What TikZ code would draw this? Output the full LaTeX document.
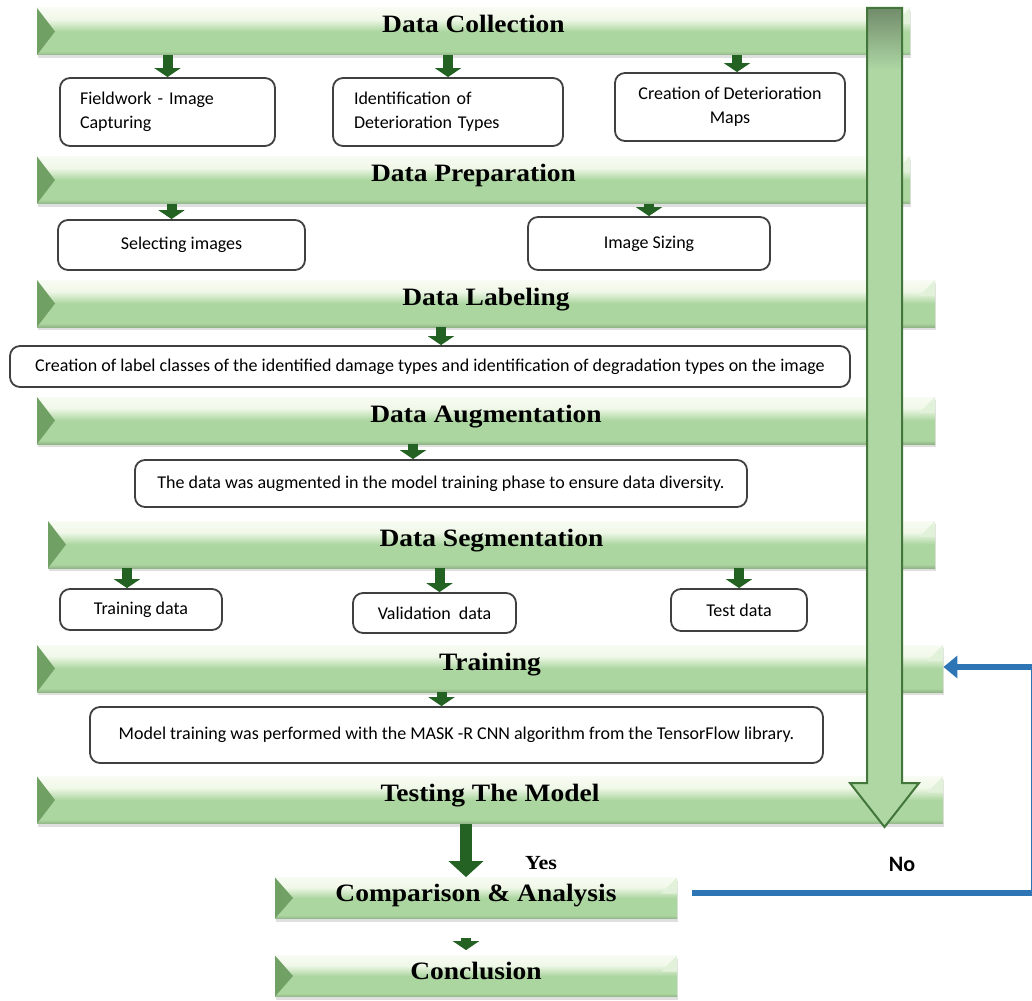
\documentclass[tikz,border=0pt]{standalone}
\usepackage{fontspec}
\setmainfont{Carlito}
\newfontfamily\bandfont[FakeStretch=1.1]{Liberation Serif}
\newfontfamily\boxfont{Carlito}
\usetikzlibrary{calc,positioning,arrows.meta,shadows}

\definecolor{bandgreen}{RGB}{172,214,160}
\definecolor{bandlight}{RGB}{240,248,232}
\definecolor{banddark}{RGB}{112,160,100}
\definecolor{flowgreen}{RGB}{36,98,36}
\definecolor{bigfill}{RGB}{174,215,164}
\definecolor{bigborder}{RGB}{66,118,58}
\definecolor{fbblue}{RGB}{46,117,182}

\pgfdeclareverticalshading{bandshade}{100bp}{color(0bp)=(bandgreen!85!black); color(25bp)=(bandgreen!85!black);
  color(29bp)=(bandgreen); color(50bp)=(bandgreen); color(63bp)=(bandlight); color(75bp)=(bandlight!50!white);
  color(100bp)=(bandlight!50!white)}
\pgfdeclareverticalshading{shaftshade}{100bp}{color(0bp)=(bigfill); color(25bp)=(bigfill);
  color(71bp)=(bigfill); color(75bp)=(bigfill!65!black); color(100bp)=(bigfill!65!black)}

\tikzset{
  band/.style={shade, shading=bandshade, inner sep=0pt,
    font=\bandfont\bfseries\fontsize{12.5}{14}\selectfont,
    text height=12.5pt, text depth=11pt,
    drop shadow={shadow xshift=0.6pt, shadow yshift=-1.6pt, opacity=0.25},
    path picture={
      \shade[left color=banddark, right color=bandgreen!90!black] (path picture bounding box.north west)
        -- ([xshift=9pt]path picture bounding box.west) -- (path picture bounding box.south west) -- cycle;
      \fill[bandlight!80!bandgreen] (path picture bounding box.north east)
        -- ([xshift=-8pt,yshift=-8pt]path picture bounding box.north east)
        -- ([yshift=-8pt]path picture bounding box.north east) -- cycle;
    }},
  smallband/.style={band, text height=12pt, text depth=8.5pt},
  stepbox/.style={draw=black!75, line width=0.9pt, rounded corners=5pt, fill=white,
    inner sep=0pt, font=\boxfont\fontsize{9}{12}\selectfont, align=center},
  flow/.style={-{Triangle[width=13pt,length=4.5pt]}, line width=5pt, flowgreen},
  bigflow/.style={-{Triangle[width=17pt,length=8pt]}, line width=6pt, flowgreen},
  bigarrow/.style={draw=bigborder, line width=1pt, line join=miter},
  feedback/.style={draw=fbblue, line width=3.2pt, -{Triangle[width=11pt,length=7pt]}},
}

\begin{document}
\begin{tikzpicture}[x=0.5pt,y=-0.5pt]
  \useasboundingbox (0,0) rectangle (1032,1000);

  % phase bands
  \node [band, minimum width=436.5pt] at (473.5,31.5) (band_collect) {Data Collection};
  \node [band, minimum width=436.5pt] at (473.5,180) (band_prep) {Data Preparation};
  \node [band, minimum width=449pt] at (486,303.5) (band_label) {Data Labeling};
  \node [band, minimum width=449pt] at (486,420.5) (band_augment) {Data Augmentation};
  \node [band, minimum width=443.5pt] at (491.5,544.5) (band_segment) {Data Segmentation};
  \node [band, minimum width=453pt] at (490,668.5) (band_train) {Training};
  \node [band, minimum width=453pt] at (490,800) (band_test) {Testing The Model};
  \node [smallband, minimum width=201pt] at (476,898) (band_compare) {Comparison \& Analysis};
  \node [smallband, minimum width=201pt] at (476,976) (band_concl) {Conclusion};

  % big down arrow over the bands
  \shade [shading=shaftshade] (867,8) rectangle (902,784);
  \fill [bigfill] (850,783) -- (919,783) -- (884.5,827) -- cycle;
  \draw [bigarrow] (867,8) -- (902,8) -- (902,783) -- (919,783) -- (884.5,827)
    -- (850,783) -- (867,783) -- cycle;

  % step boxes
  \node [stepbox, minimum width=107.5pt, minimum height=34pt, align=left, text width=87.5pt] at (167.5,112) (box_field) {Fieldwork - Image\\Capturing};
  \node [stepbox, minimum width=115pt, minimum height=34pt, align=left, text width=94pt] at (448,112) (box_ident) {Identification of\\Deterioration Types};
  \node [stepbox, minimum width=115pt, minimum height=34pt] at (730,107) (box_maps) {Creation of Deterioration\\Maps};

  \node [stepbox, minimum width=123.5pt, minimum height=25pt] at (181.5,245) (box_select) {Selecting images};
  \node [stepbox, minimum width=121pt, minimum height=26.5pt] at (649,243.5) (box_size) {Image Sizing};

  \node [stepbox, minimum width=420pt, minimum height=20.5pt] at (430,366.5) (box_classes) {Creation of label classes of the identified damage types and identification of degradation types on the image};

  \node [stepbox, minimum width=306pt, minimum height=23.5pt] at (441,483.5) (box_augment) {The data was augmented in the model training phase to ensure data diversity.};

  \node [stepbox, minimum width=81pt, minimum height=20.5pt] at (141,609.5) (box_train) {Training data};
  \node [stepbox, minimum width=81.5pt, minimum height=20pt] at (434.5,613) (box_valid) {Validation\ \ data};
  \node [stepbox, minimum width=68pt, minimum height=21pt] at (739,610) (box_test) {Test data};

  \node [stepbox, minimum width=366.5pt, minimum height=28pt] at (456.5,735) (box_model) {Model training was performed with the MASK -R CNN algorithm from the TensorFlow library.};

  % small arrows band -> box
  \foreach \src/\dst/\dx in {band_collect/box_field/0, band_collect/box_ident/0, band_collect/box_maps/7,
      band_prep/box_select/-10, band_prep/box_size/0, band_label/box_classes/11,
      band_augment/box_augment/-28, band_segment/box_train/-14, band_segment/box_valid/5,
      band_segment/box_test/0, band_train/box_model/-15}
  {
    \coordinate (in_\dst) at ($(\dst.north)+(\dx,0)$);
    \draw [flow] (\src.south -| in_\dst) -- (in_\dst);
  }

  % yes branch
  \coordinate (yes_in) at ($(band_compare.north)+(-10,0)$);
  \draw [bigflow] (band_test.south -| yes_in) -- (yes_in);
  \coordinate (concl_from) at ($(band_concl.north)+(-10,-17)$);
  \coordinate (concl_to) at ($(band_concl.north)+(-10,-5)$);
  \draw [flow] (concl_from) -- (concl_to);
  \node [font=\bandfont\bfseries\fontsize{10}{12}\selectfont] at (541,863) (lbl_yes) {Yes};

  % no branch, back to training
  \node [font=\boxfont\bfseries\fontsize{11}{13}\selectfont] at (902,864) (lbl_no) {No};
  \coordinate (fb_start) at ($(band_compare.east)+(15,-5)$);
  \coordinate (fb_low) at (1034,893);
  \coordinate (fb_high) at (1034,667);
  \draw [feedback] (fb_start) -- (fb_low) -- (fb_high) -- (band_train.east |- fb_high);

\end{tikzpicture}
\end{document}
